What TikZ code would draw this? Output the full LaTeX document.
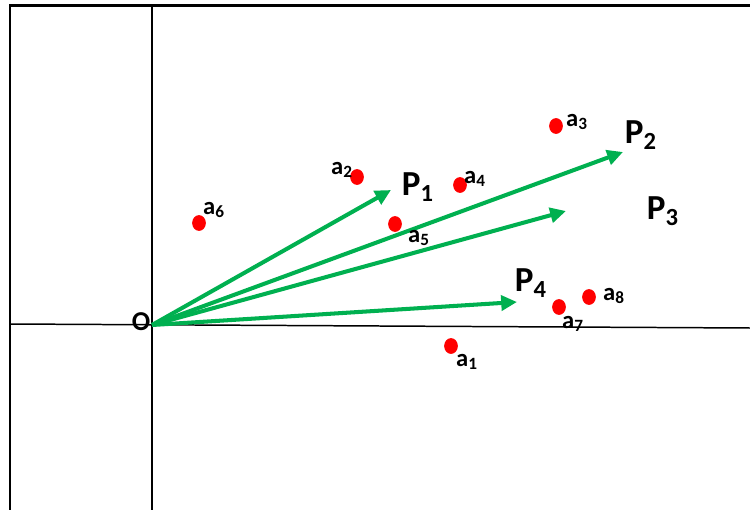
\documentclass[tikz,border=0pt]{standalone}
\usepackage{fontspec}
\setmainfont{Carlito}
\usepackage{xcolor}
\usetikzlibrary{arrows.meta,positioning}
\definecolor{vecgreen}{RGB}{0,176,80}
\definecolor{dotred}{RGB}{255,0,0}

\begin{document}
\begin{tikzpicture}[
  x=0.02cm,y=-0.02cm,
  axis/.style={line width=0.85pt},
  frame/.style={line width=1.2pt},
  vec/.style={-{Triangle[length=9pt,width=8.5pt]},line width=2.3pt,vecgreen},
  dot/.style={dotred},
  plab/.style={font=\fontsize{20}{22}\selectfont\bfseries,inner sep=0pt},
  alab/.style={font=\fontsize{14}{16}\selectfont\bfseries,inner sep=0pt}
]
  \useasboundingbox (0,0) rectangle (750,510);
  % frame and axes
  \draw[frame] (10,510) -- (10,5.5) -- (750,5.5);
  \draw[axis] (152,5) -- (152,510);
  \draw[axis] (10,324) -- (750,328);
  \coordinate (O) at (152,325);
  \node[font=\fontsize{15.5}{17}\selectfont\bfseries,inner sep=0pt] (Olab) at (141,322) {O};
  % vectors
  \coordinate (P1) at (391,190);
  \coordinate (P2) at (623,152);
  \coordinate (P3) at (566,211);
  \coordinate (P4) at (517,302);
  \draw[vec] (O) -- (P1);
  \draw[vec] (O) -- (P2);
  \draw[vec] (O) -- (P3);
  \draw[vec] (O) -- (P4);
  \node[plab] (P1lab) at (418,187) {P\textsubscript{1}};
  \node[plab] (P2lab) at (641,135) {P\textsubscript{2}};
  \node[plab] (P3lab) at (663,211) {P\textsubscript{3}};
  \node[plab] (P4lab) at (531,283) {P\textsubscript{4}};
  % points
  \foreach \n/\px/\py in {1/451/346,2/357/177,3/556/126,4/460/185,
                          5/395/224,6/199/223,7/559/307,8/589/297}
    \fill[dot] (\px,\py) ellipse[x radius=3.9pt,y radius=4.5pt];
  \node[alab] (a1) at (467,362) {a\textsubscript{1}};
  \node[alab] (a2) at (342,170) {a\textsubscript{2}};
  \node[alab] (a3) at (577,122) {a\textsubscript{3}};
  \node[alab] (a4) at (475,179) {a\textsubscript{4}};
  \node[alab] (a5) at (419,238) {a\textsubscript{5}};
  \node[alab] (a6) at (214,210) {a\textsubscript{6}};
  \node[alab] (a7) at (573,324) {a\textsubscript{7}};
  \node[alab] (a8) at (614,296) {a\textsubscript{8}};
\end{tikzpicture}
\end{document}
